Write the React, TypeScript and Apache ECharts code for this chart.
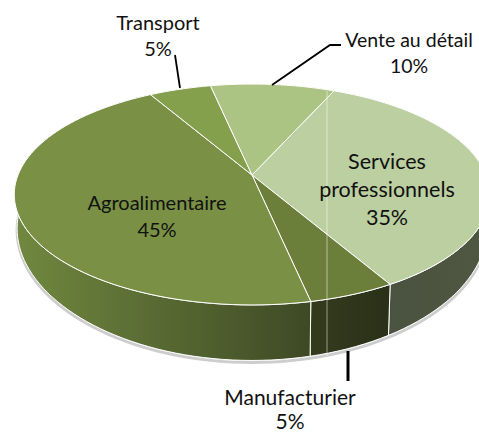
import React, { useEffect, useRef } from "react";
import * as echarts from "echarts";

const categories = ["Services\nprofessionnels", "Manufacturier", "Agroalimentaire", "Transport", "Vente au détail"];
const shares = [35, 5, 45, 5, 10];
const topColors = ["#bccfa0", "#6b7f3b", "#7a9145", "#84a04d", "#abc383"];
const wallStops = [
  ["#4a5240", "#4f5742"],
  ["#343b1d", "#2b3118"],
  ["#70883f", "#3e4925"],
  ["#3e4925", "#3e4925"],
  ["#4a5240", "#4a5240"],
];

const START_DEG = 24;
const CX = 252, CY = 175, RX = 234, RY = 107, PERSP = 0.1765, DEPTH = 31;
const labelLayout = [
  { x: 387, y: 189, size: 21.5, lh: 28 },
  { x: 290, y: 408, size: 21, lh: 24 },
  { x: 157, y: 215, size: 20, lh: 27 },
  { x: 158, y: 35, size: 20, lh: 26 },
  { x: 409, y: 52, size: 19.5, lh: 26 },
];

function rim(deg: number, lower: boolean): number[] {
  const t = (deg * Math.PI) / 180;
  const u = Math.sin(t), v = Math.cos(t);
  const s = 1 / (1 + PERSP * v);
  const x = CX + RX * u * s, y = CY - RY * v * s;
  if (!lower) return [x, y];
  return [CX + (x - CX) * 0.988, y + DEPTH * s * s * s];
}

function arc(a: number, b: number, lower: boolean): number[][] {
  const n = Math.max(2, Math.ceil(Math.abs(b - a) / 2));
  const pts: number[][] = [];
  for (let i = 0; i <= n; i++) pts.push(rim(a + ((b - a) * i) / n, lower));
  return pts;
}

function bounds(i: number): number[] {
  const total = shares.reduce((p, c) => p + c, 0);
  const before = shares.slice(0, i).reduce((p, c) => p + c, 0);
  return [START_DEG + (before / total) * 360, START_DEG + ((before + shares[i]) / total) * 360];
}

function renderWall(params: any) {
  const i = params.dataIndex;
  const [a, b] = bounds(i);
  const top = arc(a, b, false), bot = arc(a, b, true);
  const stops = wallStops[i];
  const gx = i === 2 ? [16, 312] : i === 1 ? [310, 388] : [388, 479];
  return {
    type: "group",
    children: [
      { type: "polyline", shape: { points: bot.map((p) => [p[0], p[1] + 2]) }, style: { fill: "none", stroke: "rgba(90,90,90,0.3)", lineWidth: 3 } },
      {
        type: "polygon",
        shape: { points: [...top, ...bot.slice().reverse()] },
        style: {
          fill: { type: "linear", x: gx[0], y: 0, x2: gx[1], y2: 0, global: true, colorStops: [{ offset: 0, color: stops[0] }, { offset: 1, color: stops[1] }] },
          stroke: "#ffffff",
          lineWidth: 1,
        },
      },
    ],
  };
}

function renderTop(params: any) {
  const i = params.dataIndex;
  const [a, b] = bounds(i);
  return {
    type: "polygon",
    shape: { points: [[CX, CY], ...arc(a, b, false)] },
    style: { fill: topColors[i], stroke: "#ffffff", lineWidth: 1 },
  };
}

const leaderStyle = { stroke: "#000000", lineCap: "butt" };

export default function App() {
  const ref = useRef<HTMLDivElement>(null);
  useEffect(() => {
    document.body.style.margin = "0";
    const chart = echarts.init(ref.current!, null, { renderer: "svg" });
    const data = shares.map((v) => [v]);
    chart.setOption({
      animation: false,
      backgroundColor: "#ffffff",
      series: [
        { type: "custom", coordinateSystem: "none", renderItem: renderWall, data, silent: true, z: 1, clip: false },
        { type: "custom", coordinateSystem: "none", renderItem: renderTop, data, silent: true, z: 2, clip: false },
      ],
      graphic: [
        { type: "line", z: 5, shape: { x1: 327, y1: 91, x2: 327, y2: 356 }, style: { stroke: "rgba(255,255,255,0.5)", lineWidth: 1 } },
        { type: "polyline", z: 5, shape: { points: [[175, 55], [180, 88]] }, style: { ...leaderStyle, fill: "none", lineWidth: 1.8 } },
        { type: "polyline", z: 5, shape: { points: [[272, 85], [330, 45], [341, 45]] }, style: { ...leaderStyle, fill: "none", lineWidth: 1.8 } },
        { type: "polyline", z: 5, shape: { points: [[348, 351], [348, 381]] }, style: { ...leaderStyle, fill: "none", lineWidth: 3 } },
        ...categories.map((c, i) => ({
          type: "text",
          z: 6,
          x: labelLayout[i].x,
          y: labelLayout[i].y,
          style: {
            text: `${c}\n${shares[i]}%`,
            font: `${labelLayout[i].size}px Lato`,
            fill: "#111111",
            align: "center",
            verticalAlign: "middle",
            lineHeight: labelLayout[i].lh,
          },
        })),
      ],
    });
    return () => chart.dispose();
  }, []);
  return <div ref={ref} style={{ width: 479, height: 432 }} />;
}
